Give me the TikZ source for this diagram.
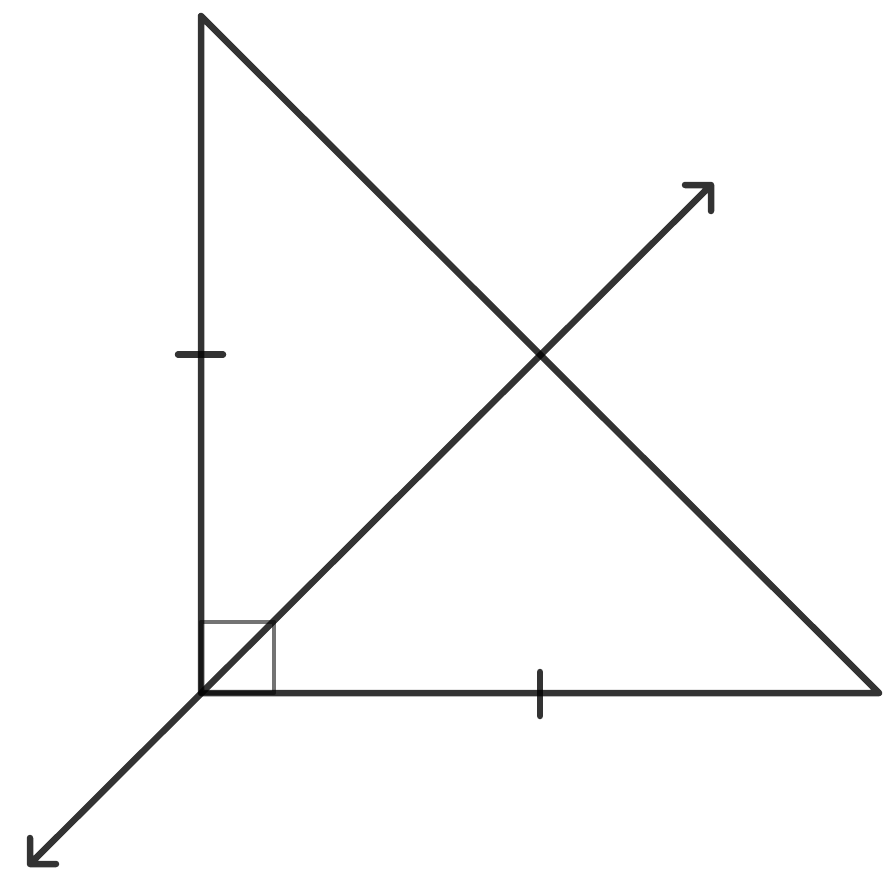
\documentclass[tikz,border=0pt]{standalone}
\begin{document}
\begin{tikzpicture}[x=1pt,y=-1pt,
  seg/.style={draw=black,draw opacity=0.8,line width=6.5pt,line cap=round,line join=round},
  anglebox/.style={draw=black,draw opacity=0.55,line width=4.5pt,line join=round}]
\useasboundingbox (0,0) rectangle (896,881);
\coordinate (A) at (201,16);
\coordinate (B) at (201,693);
\coordinate (C) at (879,693);
\coordinate (M) at (540,354.5);
\coordinate (P) at (711,185);
\coordinate (Q) at (30,864);
% right angle mark
\path[anglebox] (B) -- (201,622) -- (274,622) -- (274,693) -- cycle;
% triangle
\path[seg] (A) -- (B) -- (C) -- cycle;
% ticks
\path[seg] (178,354.5) -- (223,354.5);
\path[seg] (540,672) -- (540,716);
% bisector line with arrow heads
\path[seg] (Q) -- (P) (685,185) -- (P) -- (711,211) (30,838) -- (Q) -- (56,864);
\end{tikzpicture}
\end{document}
